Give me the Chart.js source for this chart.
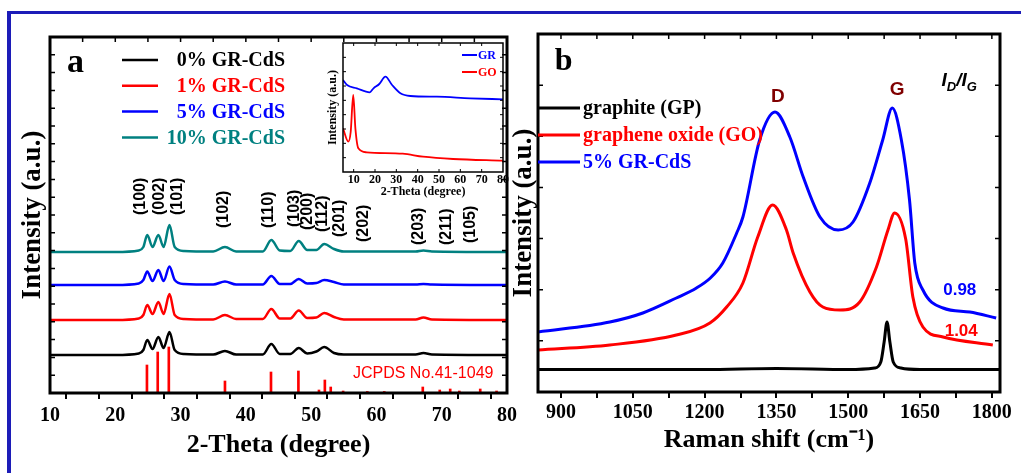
<!DOCTYPE html>
<html>
<head>
<meta charset="utf-8">
<script src="https://cdn.jsdelivr.net/npm/chart.js@4.4.1/dist/chart.umd.min.js"></script>
<style>
  html, body { margin: 0; padding: 0; background: #fff; }
  #page { position: relative; width: 1021px; height: 473px; overflow: hidden; }
  #frame { position: absolute; left: 7px; top: 11px; width: 1100px; height: 600px;
           border-top: 3px solid #1c1cb8; border-left: 4px solid #1c1cb8; }
  canvas { position: absolute; }
  #xrd { left: 0; top: 0; }
  #raman { left: 505px; top: 0; }
  #inset { left: 318px; top: 38px; }
</style>
</head>
<body>
<div id="page">
  <div id="frame"></div>
  <canvas id="xrd" width="523" height="473"></canvas>
  <canvas id="raman" width="516" height="473"></canvas>
  <canvas id="inset" width="195" height="165"></canvas>
</div>
<script>
// ---- panel a: XRD of x% GR-CdS (stacked, arbitrary units) ----
const xrdTheta = [10, 20, 23.6, 24.3, 24.9, 25.7, 26.6, 27.4, 28.3, 29.1, 30.5, 35, 36.8, 38.5,
                  42.6, 43.9, 45.2, 46.8, 48.1, 49.4, 50.8, 52.0, 53.5, 55, 66, 67.2, 68.5, 80];
const xrd0  = [38, 38, 39.5, 43, 53, 44, 56, 45, 61, 43, 39, 38.5, 42, 38.5,
               38.5, 49, 39, 39, 45, 39.5, 41.5, 46, 40, 38.5, 38.5, 40, 38.5, 38];
const xrd1  = [73, 73, 74.5, 78, 88, 79, 91, 79, 99, 78, 74, 73.5, 78, 74,
               74, 84, 74.5, 74.5, 82.5, 75, 75.5, 80, 76, 73.5, 73.5, 75.5, 73.5, 73];
const xrd5  = [108, 108, 109.5, 113, 121.5, 112, 123, 112, 126.5, 113, 109, 108.5, 111.5, 108.5,
               108.5, 117, 109, 109, 114, 109.5, 110, 113, 111, 108.5, 108.5, 109, 108.5, 108];
const xrd10 = [141, 141, 142.5, 146, 158, 146, 158, 146, 168, 146, 142, 141.5, 146, 141.5,
               141.5, 153, 142.5, 142, 152, 143, 143, 149, 144, 141.5, 141.5, 142.5, 141.5, 141];
const xrdLabels = ['0% GR-CdS', '1% GR-CdS', '5% GR-CdS', '10% GR-CdS'];

// JCPDS No.41-1049 reference lines
const jcpdsTheta  = [24.85, 26.5, 28.2, 36.8, 43.85, 48.05, 51.2, 52.1, 53.0, 54.9, 58.6, 61.2, 67.1, 69.7, 71.3, 72.7, 75.9, 78.4];
const jcpdsHeight = [28, 41, 46, 12, 21, 22, 3, 13, 6, 2, 1.5, 1.5, 6, 3, 4, 2, 4, 2];

// Miller indices written above the patterns
const hklLabels = ['(100)', '(002)', '(101)', '(102)', '(110)', '(103)', '(200)', '(112)', '(201)', '(202)', '(203)', '(211)', '(105)'];
const hklTheta  = [23.8, 26.85, 29.5, 36.65, 43.5, 47.4, 49.4, 51.8, 54.4, 58.1, 66.5, 70.8, 74.4];
const hklStart  = [178, 178, 178, 165, 165, 166, 163, 161, 156, 151, 148, 148, 150];

// ---- inset: GR and GO ----
const grTheta  = [5, 6.9, 11.5, 17.5, 19.3, 22, 24.9, 28, 31.9, 36.6, 49, 64.6, 80];
const grValues = [92, 87, 83.7, 79.7, 83.7, 88, 95.3, 87, 78.7, 76, 75.3, 73.7, 72.7];
const goTheta  = [5, 7.5, 8.6, 9.8, 10.8, 12.2, 16.1, 33, 42.5, 56.6, 80];
const goValues = [43.7, 30.3, 40, 77, 43.7, 23.7, 19.7, 18.3, 15.3, 13, 11.3];

// ---- panel b: Raman spectra ----
const gpShift  = [852, 1000, 1200, 1350, 1500, 1555, 1568, 1575, 1581, 1587, 1594, 1610, 1650, 1815];
const gpValues = [22.5, 22.5, 22.5, 23.5, 22.5, 24, 30, 50, 70, 50, 30, 24, 22.5, 22.5];
const goShift  = [852, 1002, 1141, 1211, 1246, 1280, 1311, 1342, 1371, 1385, 1420, 1447, 1483,
                  1524, 1559, 1583, 1597, 1620, 1635, 1656, 1698, 1802];
const goRaman  = [42, 47, 57, 69, 85, 109, 155, 187, 162, 139, 100, 85, 82,
                  90, 125, 162, 179, 153, 95, 65, 55, 47];
const crShift  = [852, 1002, 1071, 1141, 1183, 1212, 1238, 1267, 1280, 1315, 1347, 1378, 1406, 1441,
                  1479, 1510, 1545, 1572, 1592, 1611, 1628, 1639, 1656, 1698, 1754, 1809];
const crRaman  = [60, 70, 79, 94, 104, 114, 129, 159, 175, 252, 280, 255, 215, 175,
                  162, 170, 209, 252, 284, 252, 192, 129, 102, 84, 80, 74];
const ramanLabels = ['graphite (GP)', 'graphene oxide (GO)', '5% GR-CdS'];
const ratioLabels = ['0.98', '1.04'];

const SERIF = "'Liberation Serif', 'Times New Roman', serif";
const SANS = "'Liberation Sans', Arial, sans-serif";
const pts = (xs, ys) => xs.map((x, i) => ({x: x, y: ys[i]}));

// frame, inward ticks, in-plot legend and text notes
const decor = {
  id: 'decor',
  afterDatasetsDraw(chart, args, o) {
    const {ctx, chartArea: a} = chart;
    const sx = chart.scales.x, sy = chart.scales.y;
    ctx.save();
    ctx.strokeStyle = '#000';
    ctx.lineWidth = o.tickWidth;
    ctx.beginPath();
    sy.ticks.forEach(t => {
      const py = sy.getPixelForValue(t.value);
      if (py <= a.top + 1 || py >= a.bottom - 1) return;
      ctx.moveTo(a.left, py); ctx.lineTo(a.left + o.tickLen, py);
      ctx.moveTo(a.right, py); ctx.lineTo(a.right - o.tickLen, py);
    });
    sx.ticks.forEach(t => {
      const px = sx.getPixelForValue(t.value);
      if (px <= a.left + 1 || px >= a.right - 1) return;
      ctx.moveTo(px, a.top); ctx.lineTo(px, a.top + o.tickLen);
      if (o.bottomIn) { ctx.moveTo(px, a.bottom); ctx.lineTo(px, a.bottom - o.tickLen); }
    });
    ctx.stroke();
    ctx.lineWidth = o.frame;
    ctx.strokeRect(a.left, a.top, a.right - a.left, a.bottom - a.top);

    const L = o.legend;
    ctx.font = L.font;
    ctx.textBaseline = 'middle';
    ctx.textAlign = L.align;
    let row = 0;
    chart.data.datasets.forEach(ds => {
      if (ds.type === 'bar') return;
      const y = a.top + L.y0 + row * L.dy;
      ctx.strokeStyle = ds.borderColor;
      ctx.lineWidth = L.lineWidth;
      ctx.beginPath();
      ctx.moveTo(a.left + L.x0, y);
      ctx.lineTo(a.left + L.x1, y);
      ctx.stroke();
      ctx.fillStyle = ds.borderColor;
      ctx.fillText(ds.label, a.left + L.tx, y + 1);
      row++;
    });

    (o.notes || []).forEach(n => {
      ctx.save();
      ctx.translate(sx.getPixelForValue(n.x), sy.getPixelForValue(n.y));
      if (n.rotate) ctx.rotate(n.rotate * Math.PI / 180);
      ctx.fillStyle = n.color || '#000';
      ctx.textBaseline = n.baseline || 'alphabetic';
      ctx.textAlign = n.align || 'left';
      if (n.parts) {
        let cx = 0;
        n.parts.forEach(p => {
          ctx.font = p.font;
          ctx.fillText(p.text, cx, p.dy || 0);
          cx += ctx.measureText(p.text).width + (p.gap || 0);
        });
      } else {
        ctx.font = n.font;
        ctx.fillText(n.text, 0, 0);
      }
      ctx.restore();
    });
    ctx.restore();
  }
};

function axisX(min, max, step, labelStep, label, fit, tickFont, pad, titleFont, titlePad, tickLen) {
  return {
    type: 'linear', min: min, max: max, offset: false,
    afterFit: s => { s.height = fit; },
    afterBuildTicks: s => { s.ticks = s.ticks.filter(t => Math.abs(t.value / step - Math.round(t.value / step)) < 1e-6); },
    ticks: {
      stepSize: step, includeBounds: false, autoSkip: false, maxRotation: 0, padding: pad, color: '#000',
      font: {family: SERIF, size: tickFont, weight: 'bold'},
      callback: v => (v % labelStep === 0 ? String(v) : '')
    },
    grid: tickLen ? {display: true, drawOnChartArea: false, drawTicks: true, tickLength: tickLen, color: '#000', lineWidth: 2}
                  : {display: false, drawTicks: false, tickLength: 0},
    border: {display: false},
    title: {display: true, text: label, color: '#000', font: {family: SERIF, size: titleFont, weight: 'bold'},
            padding: {top: 0, bottom: titlePad}}
  };
}

function axisY(max, count, fit, titleFont, titlePad) {
  return {
    min: 0, max: max,
    afterFit: s => { s.width = fit; },
    ticks: {display: false, count: count},
    grid: {display: false},
    border: {display: false},
    title: {display: true, text: 'Intensity (a.u.)', color: '#000', font: {family: SERIF, size: titleFont, weight: 'bold'},
            padding: {top: titlePad, bottom: 0}}
  };
}

function line(label, color, data, width) {
  return {type: 'line', label: label, data: data, borderColor: color, backgroundColor: color,
          borderWidth: width, pointRadius: 0, cubicInterpolationMode: 'monotone', fill: false, order: 0};
}

const common = {responsive: false, animation: false, devicePixelRatio: 1, events: []};

// ---------- panel a ----------
const xrdColors = ['#000000', '#ff0000', '#0000ff', '#008080'];
const xrdSeries = [xrd0, xrd1, xrd5, xrd10];
const hklNotes = hklLabels.map((t, i) => ({text: t, x: hklTheta[i], y: hklStart[i], rotate: -90,
  baseline: 'middle', align: 'left', font: 'bold 16px ' + SANS}));

new Chart(document.getElementById('xrd'), {
  type: 'line',
  data: {
    datasets: xrdSeries.map((s, i) => line(xrdLabels[i], xrdColors[i], pts(xrdTheta, s), 2.5)).concat([{
      type: 'bar', label: 'JCPDS No.41-1049', data: pts(jcpdsTheta, jcpdsHeight),
      backgroundColor: '#ff0000', borderWidth: 0, barThickness: 2, grouped: false, order: 10
    }])
  },
  options: Object.assign({}, common, {
    layout: {padding: {top: 37, right: 16, left: 0, bottom: 0}},
    scales: {
      x: axisX(10, 80, 5, 10, '2-Theta (degree)', 80, 20, 5, 26, 12, 6),
      y: axisY(356, 21, 50, 27, 17)
    },
    plugins: {
      legend: {display: false}, tooltip: {enabled: false},
      decor: {
        frame: 3, tickWidth: 1.5, tickLen: 5,
        legend: {x0: 72, x1: 108, tx: 235, align: 'right', y0: 23, dy: 25.8,
                 font: 'bold 20px ' + SERIF, lineWidth: 2.5},
        notes: hklNotes.concat([
          {text: 'a', x: 12.6, y: 321, font: 'bold 34px ' + SERIF},
          {text: 'JCPDS No.41-1049', x: 56.4, y: 15, color: '#ff0000', font: '16px ' + SANS}
        ])
      }
    }
  }),
  plugins: [decor]
});

// ---------- inset ----------
new Chart(document.getElementById('inset'), {
  type: 'line',
  data: {
    datasets: [
      line('GR', '#0000ff', pts(grTheta, grValues), 1.8),
      line('GO', '#ff0000', pts(goTheta, goValues), 1.8)
    ]
  },
  options: Object.assign({}, common, {
    layout: {padding: {top: 5, right: 10, left: 0, bottom: 0}},
    scales: {
      x: axisX(5, 80, 10, 10, '2-Theta (degree)', 31, 12, 1, 12, 4, 0),
      y: axisY(129, 10, 25, 12, 8)
    },
    plugins: {
      legend: {display: false}, tooltip: {enabled: false},
      decor: {
        frame: 1.5, tickWidth: 1, tickLen: 3, bottomIn: true,
        legend: {x0: 119, x1: 134, tx: 135, align: 'left', y0: 12, dy: 17,
                 font: 'bold 12px ' + SERIF, lineWidth: 2},
        notes: []
      }
    }
  }),
  plugins: [decor]
});

// ---------- panel b ----------
const ratioColors = ['#0000ff', '#ff0000'];
new Chart(document.getElementById('raman'), {
  type: 'line',
  data: {
    datasets: [
      line(ramanLabels[0], '#000000', pts(gpShift, gpValues), 3),
      line(ramanLabels[1], '#ff0000', pts(goShift, goRaman), 3),
      line(ramanLabels[2], '#0000ff', pts(crShift, crRaman), 3)
    ]
  },
  options: Object.assign({}, common, {
    layout: {padding: {top: 34, right: 21, left: 0, bottom: 0}},
    scales: {
      x: axisX(852, 1817, 75, 150, 'Raman shift (cm\u207B\u00B9)', 81, 20, 3, 26, 17, 6),
      y: axisY(358, 8, 33, 27, 3)
    },
    plugins: {
      legend: {display: false}, tooltip: {enabled: false},
      decor: {
        frame: 3, tickWidth: 1.5, tickLen: 5,
        legend: {x0: 0, x1: 42, tx: 45, align: 'left', y0: 74, dy: 27,
                 font: 'bold 20px ' + SERIF, lineWidth: 3},
        notes: [
          {text: 'b', x: 887, y: 322, font: 'bold 32px ' + SERIF},
          {text: 'D', x: 1353, y: 290, align: 'center', color: '#800000', font: 'bold 19px ' + SANS},
          {text: 'G', x: 1602, y: 297, align: 'center', color: '#800000', font: 'bold 19px ' + SANS},
          {x: 1695, y: 306, parts: [
            {text: 'I', font: 'italic bold 19px ' + SANS},
            {text: 'D', font: 'italic bold 13px ' + SANS, dy: 5},
            {text: '/', font: 'italic bold 19px ' + SANS},
            {text: 'I', font: 'italic bold 19px ' + SANS},
            {text: 'G', font: 'italic bold 13px ' + SANS, dy: 5}
          ]},
          {text: ratioLabels[0], x: 1733, y: 97, align: 'center', color: ratioColors[0], font: 'bold 17px ' + SANS},
          {text: ratioLabels[1], x: 1736, y: 56, align: 'center', color: ratioColors[1], font: 'bold 17px ' + SANS}
        ]
      }
    }
  }),
  plugins: [decor]
});
</script>
</body>
</html>
